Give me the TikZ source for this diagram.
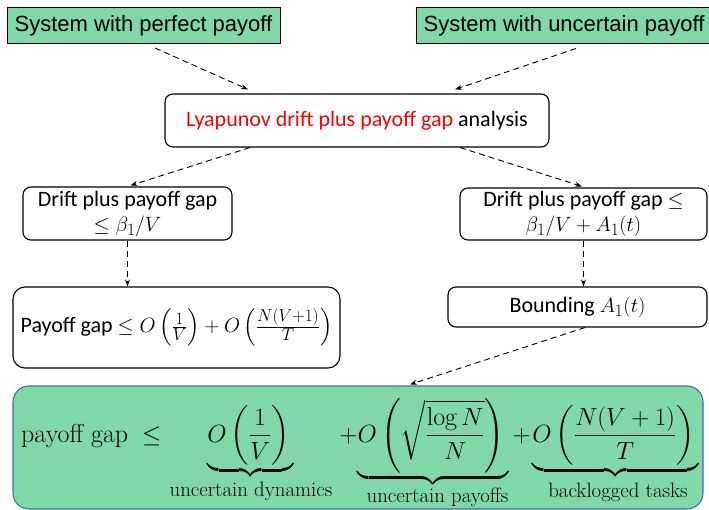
\documentclass[tikz,border=0pt]{standalone}
\usepackage{amsmath}
\usepackage{graphicx}
\usepackage{fontspec}
\newfontfamily\arialf{Liberation Sans}
\newfontfamily\calf{Carlito}
\usetikzlibrary{arrows.meta}
\DeclareMathSizes{22}{22}{17}{13}
\definecolor{boxgreen}{RGB}{128,216,168}
\definecolor{eqborder}{RGB}{65,113,156}
\begin{document}
\begin{tikzpicture}[x=1pt,y=-1pt,
  greenbox/.style={draw=black,line width=1pt,fill=boxgreen,inner sep=0pt,font=\arialf\fontsize{22}{26}\selectfont},
  roundbox/.style={draw=black,line width=1.1pt,rounded corners=8pt,inner sep=0pt,align=center,font=\calf\fontsize{22}{25}\selectfont},
  eqboxstyle/.style={draw=eqborder,line width=1.1pt,fill=boxgreen,rounded corners=16pt,inner sep=0pt},
  dasharrow/.style={draw=black,line width=0.9pt,dash pattern=on 6pt off 4pt,-{Stealth[length=7pt,width=5pt]}},
  eqpart/.style={anchor=base,inner sep=0pt,font=\fontsize{26}{30}\selectfont},
  eqlabel/.style={anchor=base,inner sep=0pt,font=\fontsize{20.8}{24}\selectfont}]
\useasboundingbox (0,0) rectangle (709,510);
% top boxes
\node[greenbox,minimum width=273pt,minimum height=36pt] (tl) at (143.5,25.5) {System with perfect payoff};
\node[greenbox,minimum width=296pt,minimum height=36pt] (tr) at (564,25.5) {System with uncertain payoff};
% analysis box
\node[roundbox,minimum width=384pt,minimum height=53pt] (ly) at (357,120.5) {\textcolor{red}{Lyapunov drift plus payoff gap} analysis};
% middle boxes
\node[roundbox,minimum width=209pt,minimum height=53pt] (dl) at (127.5,213.5) {Drift plus payoff gap\\ $\le \beta_1/V$};
\node[roundbox,minimum width=247pt,minimum height=52pt] (dr) at (583.5,214) {Drift plus payoff gap $\le$\\ $\beta_1/V + A_1(t)$};
% lower boxes
\node[roundbox,minimum width=327pt,minimum height=81pt,rounded corners=12pt] (pl) at (176.5,327.5) {Payoff gap $\le O\left(\frac{1}{V}\right) + O\left(\frac{N(V+1)}{T}\right)$};
\node[roundbox,minimum width=259pt,minimum height=40pt] (bd) at (577.5,307) {Bounding $A_1(t)$};
% equation box
\node[eqboxstyle,minimum width=690pt,minimum height=123pt] (eq) at (358,447.5) {};
\node[eqpart,anchor=base west] (pg) at (21,442) {payoff gap};
\node[eqpart,anchor=base west] (le) at (142,442) {$\le$};
\node[eqpart] (t1) at (250.5,442) {$\displaystyle\underbrace{O\left(\frac{1}{V}\right)\rule[-19pt]{0pt}{19pt}}$};
\node[eqpart] (p1) at (348.5,442) {$+$};
\node[eqpart] (t2) at (433,442) {$\displaystyle\underbrace{O\left(\sqrt{\frac{\log N}{N}}\right)\rule[-31pt]{0pt}{31pt}}$};
\node[eqpart] (p2) at (521.5,442) {$+$};
\node[eqpart] (t3) at (615.5,442) {$\displaystyle\underbrace{O\left(\frac{N(V+1)}{T}\right)\rule[-19pt]{0pt}{19pt}}$};
\node[eqlabel] (l1) at (251,496) {uncertain dynamics};
\node[eqlabel] (l2) at (437.5,502) {uncertain payoffs};
\node[eqlabel] (l3) at (618,497) {backlogged tasks};
% connectors
\draw[dasharrow] ([xshift=11.5pt,yshift=-4pt]tl.south) -- ([xshift=-109pt,yshift=4pt]ly.north);
\draw[dasharrow] ([xshift=12pt,yshift=-4.5pt]tr.south) -- ([xshift=98pt,yshift=4pt]ly.north);
\draw[dasharrow] ([xshift=-107pt]ly.south) -- ([xshift=3pt,yshift=1pt]dl.north);
\draw[dasharrow] ([xshift=103pt]ly.south) -- ([xshift=-1.5pt,yshift=1pt]dr.north);
\draw[dasharrow] (dl.south) -- (dl.south |- pl.north);
\draw[dasharrow] (dr.south) -- (dr.south |- bd.north);
\draw[dasharrow] ([xshift=7.5pt]bd.south) -- ([xshift=52pt,yshift=1pt]eq.north);
\end{tikzpicture}
\end{document}
